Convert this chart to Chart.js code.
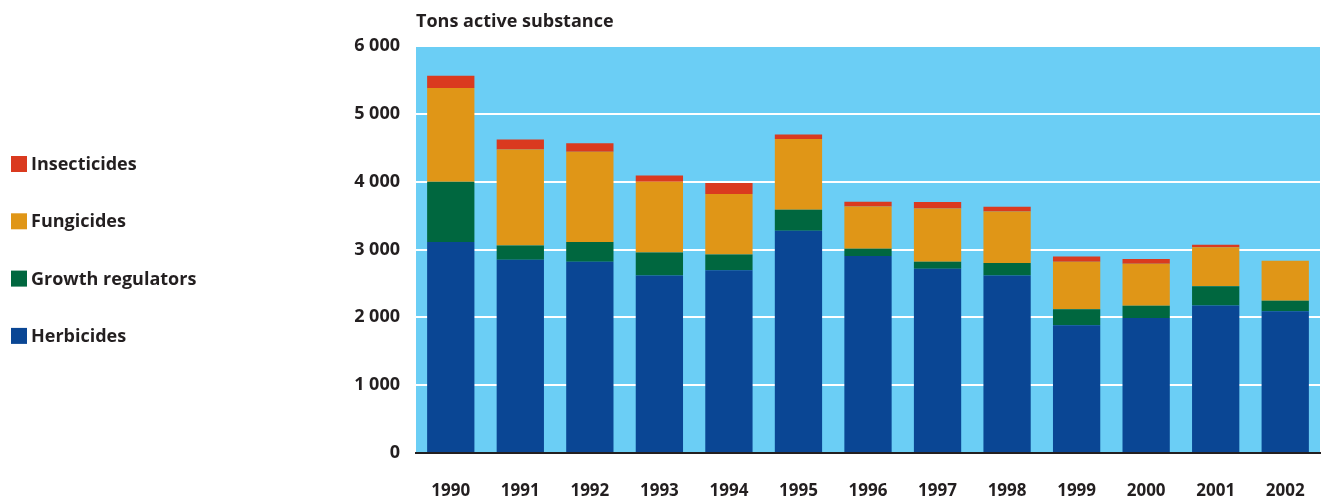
<!DOCTYPE html>
<html>
<head>
<meta charset="utf-8">
<script src="https://cdn.jsdelivr.net/npm/chart.js@4.4.1/dist/chart.umd.min.js"></script>
<style>
html,body{margin:0;padding:0;background:#fff;}
#wrap{width:1324px;height:500px;}
</style>
</head>
<body>
<div id="wrap"><canvas id="chart" width="1324" height="500"></canvas></div>
<script>

const years = ["1990","1991","1992","1993","1994","1995","1996","1997","1998","1999","2000","2001","2002"];

const herbicides = [3110,2850,2820,2615,2695,3275,2905,2715,2615,1885,1990,2175,2090];
const growthRegulators = [890,210,290,340,230,310,105,105,185,235,180,285,155];
const fungicides = [1380,1415,1330,1045,895,1045,625,785,760,700,620,575,590];
const insecticides = [180,145,125,90,160,65,70,95,70,75,70,35,0];

const yTicks = [0,1000,2000,3000,4000,5000,6000];

const textColor="#231F20";
const font="'Open Sans', sans-serif";

// legend order top to bottom
const legendOrder=[3,2,1,0];

const bgPlugin={
id:"bg",
beforeDraw(chart){
const {ctx,chartArea:a}=chart;
ctx.save();
ctx.fillStyle="#6BCEF5";
ctx.fillRect(a.left,a.top,a.right-a.left,a.bottom-a.top);
ctx.restore();
}
};

const sideLegend={
id:"sideLegend",
afterDraw(chart){
const ctx=chart.ctx;
const a=chart.chartArea;
ctx.save();
ctx.font="bold 18px "+font;
ctx.textBaseline="middle";
ctx.textAlign="left";
legendOrder.forEach((i,k)=>{
const ds=chart.data.datasets[i];
const y=164+k*57.3;
ctx.fillStyle=ds.backgroundColor;
ctx.fillRect(11,y-8,16,16);
ctx.fillStyle=textColor;
ctx.fillText(ds.label,31,y+1);
});
// axis title
ctx.textBaseline="middle";
ctx.fillText("Tons active substance",a.left,22);
ctx.restore();
}
};

new Chart(document.getElementById("chart"),{
type:"bar",
data:{
labels:years,
datasets:[
{label:"Herbicides",data:herbicides,backgroundColor:"#0A4694"},
{label:"Growth regulators",data:growthRegulators,backgroundColor:"#00673F"},
{label:"Fungicides",data:fungicides,backgroundColor:"#E09617"},
{label:"Insecticides",data:insecticides,backgroundColor:"#DA3A1F"}
]
},
options:{
responsive:false,
animation:false,
layout:{padding:{top:46,right:4,left:0,bottom:0}},
datasets:{bar:{barPercentage:0.68,categoryPercentage:1,borderWidth:0}},
plugins:{legend:{display:false},tooltip:{enabled:false}},
scales:{
x:{
stacked:true,
grid:{display:false},
border:{display:true,color:textColor,width:2,z:1},
ticks:{color:textColor,font:{family:font,size:17,weight:"bold"},padding:20,maxRotation:0},
afterFit(s){s.height=47;s.paddingLeft=0;s.paddingRight=0;}
},
y:{
stacked:true,
min:0,
max:6000,
afterBuildTicks(s){s.ticks=yTicks.map(v=>({value:v}));},
grid:{color:c=>c.tick&&c.tick.value===0?"rgba(0,0,0,0)":"#ffffff",lineWidth:2,drawTicks:false},
border:{display:false},
ticks:{
color:textColor,
font:{family:font,size:18,weight:"bold"},
padding:16,
callback:v=>v>=1000?Math.floor(v/1000)+" "+String(v%1000).padStart(3,"0"):String(v)
},
afterFit(s){s.width=416;}
}
}
},
plugins:[bgPlugin,sideLegend]
});

</script>
</body>
</html>
